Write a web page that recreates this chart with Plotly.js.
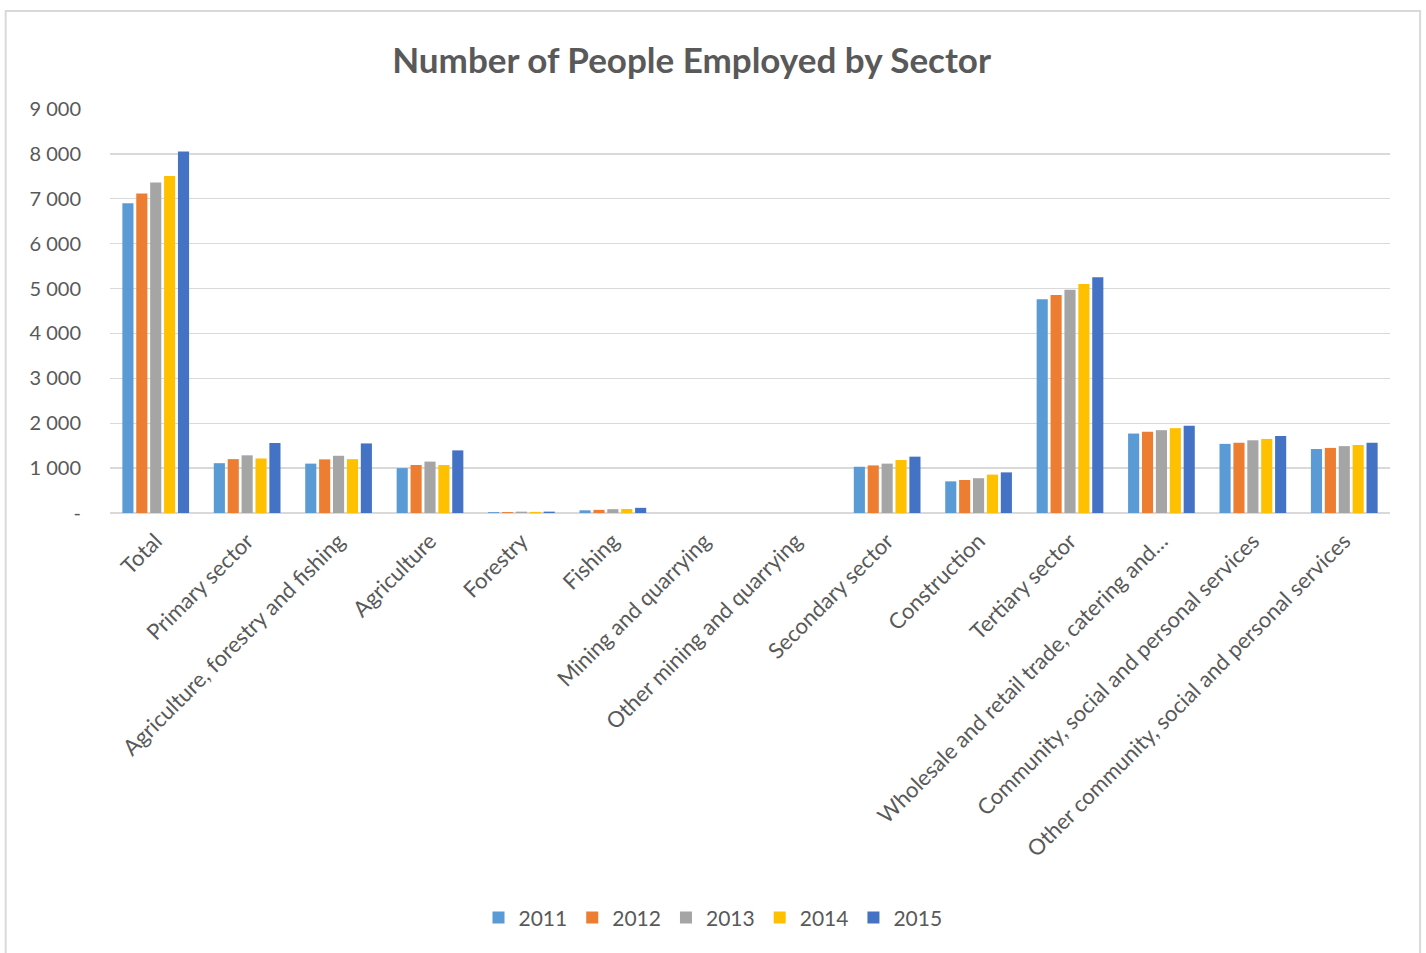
<!DOCTYPE html>
<html>
<head>
<meta charset="utf-8">
<script src="https://cdn.plot.ly/plotly-3.0.1.min.js"></script>
<style>html,body{margin:0;padding:0;background:#fff;}#chart{width:1426px;height:953px;}</style>
</head>
<body>
<div id="chart"></div>
<script>
const categories = ["Total","Primary sector","Agriculture, forestry and fishing","Agriculture","Forestry","Fishing","Mining and quarrying","Other mining and quarrying","Secondary sector","Construction","Tertiary sector","Wholesale and retail trade, catering and…","Community, social and personal services","Other community, social and personal services"];
const years = ["2011","2012","2013","2014","2015"];
const v2011 = [6900,1110,1100,1000,20,60,0,0,1030,705,4760,1770,1540,1425];
const v2012 = [7120,1200,1195,1070,20,70,0,0,1060,735,4855,1810,1565,1450];
const v2013 = [7365,1285,1275,1145,30,85,0,0,1100,775,4975,1845,1620,1490];
const v2014 = [7505,1215,1200,1070,25,90,0,0,1180,855,5100,1890,1650,1515];
const v2015 = [8055,1560,1550,1395,30,115,0,0,1255,905,5250,1945,1715,1565];
const yTickVals = [0,1000,2000,3000,4000,5000,6000,7000,8000,9000];
const yTickText = ["-","1 000","2 000","3 000","4 000","5 000","6 000","7 000","8 000","9 000"];
const colors = ["#5b9bd5","#ed7d31","#a5a5a5","#ffc000","#4472c4"];
const series = [v2011,v2012,v2013,v2014,v2015];

const traces = series.map((vals,i)=>({
  type:'bar', name:years[i], x:categories, y:vals,
  marker:{color:colors[i], line:{width:0}},
  hoverinfo:'x+y+name'
}));

const font = "Lato, 'Open Sans', sans-serif";
const layout = {
  width:1426, height:953,
  paper_bgcolor:'#ffffff', plot_bgcolor:'#ffffff',
  margin:{l:110, r:36, t:109, b:440},
  title:{text:'<b>Number of People Employed by Sector</b>', font:{family:font, size:35, color:'#595959'},
    xref:'container', x:0.485, xanchor:'center', yref:'container', y:0.936, yanchor:'middle'},
  barmode:'group', bargap:0.24, bargroupgap:0.2,
  xaxis:{type:'category', tickangle:-45, tickfont:{family:font, size:22, color:'#595959'},
    showgrid:false, ticks:'', showline:false, automargin:false, ticklabelstandoff:10},
  yaxis:{range:[0,9000], tickvals:yTickVals, ticktext:yTickText, tickfont:{family:font, size:20, color:'#595959'},
    gridcolor:'#d9d9d9', gridwidth:1.4, zeroline:true, zerolinecolor:'#d9d9d9', zerolinewidth:1.4,
    showline:false, ticks:'', ticklabelstandoff:28, automargin:false},
  legend:{orientation:'h', xref:'container', yref:'container', x:0.5, xanchor:'center', y:0.037, yanchor:'middle',
    font:{family:font, size:21, color:'#595959'}, itemwidth:30, traceorder:'normal', bgcolor:'rgba(0,0,0,0)'},
  shapes:[{type:'rect', xref:'paper', yref:'paper', x0:-0.0815, x1:1.0235, y0:-1.3, y1:1.2426,
    line:{color:'#d9d9d9', width:2}, fillcolor:'rgba(0,0,0,0)', layer:'below'}],
  showlegend:true
};
Plotly.newPlot('chart', traces, layout, {displayModeBar:false, staticPlot:true});
</script>
</body>
</html>
